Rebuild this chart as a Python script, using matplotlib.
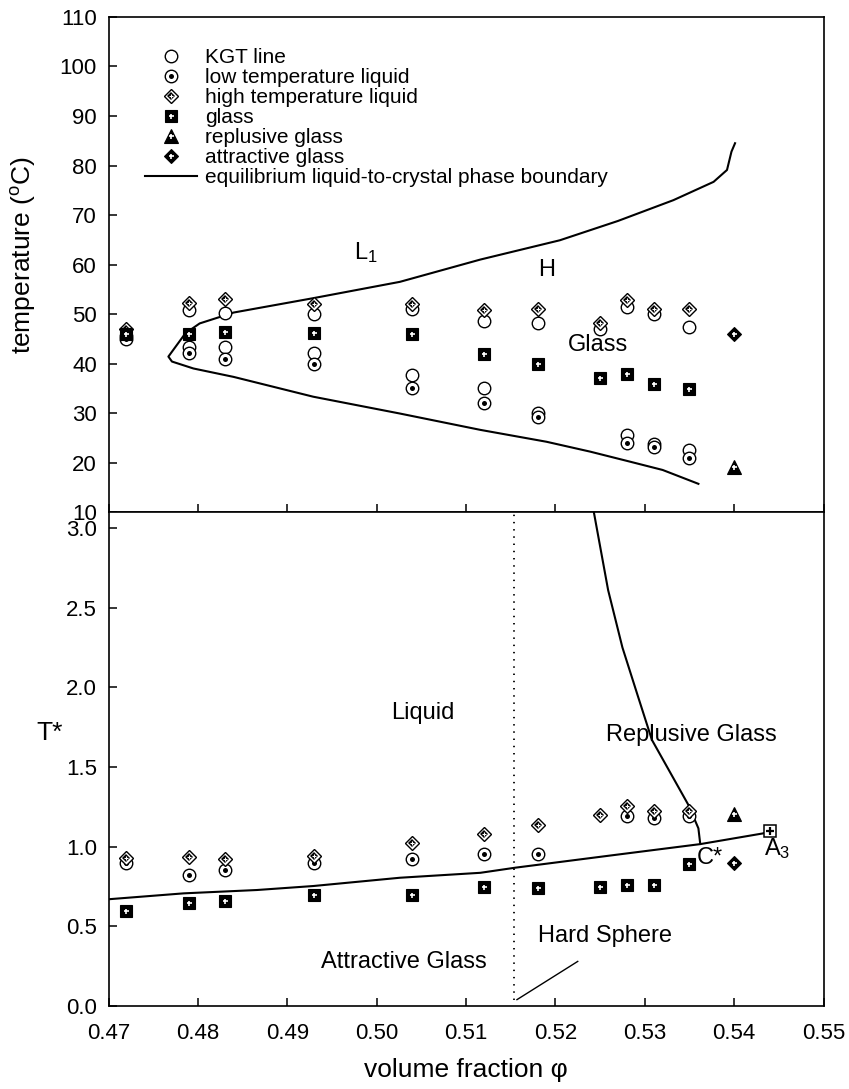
import numpy as np
import matplotlib
matplotlib.use("Agg")
import matplotlib.pyplot as plt
from matplotlib.legend_handler import HandlerTuple

plt.rcParams['font.family'] = ['Liberation Sans', 'DejaVu Sans']
plt.rcParams['mathtext.fontset'] = 'custom'
plt.rcParams['mathtext.rm'] = 'Liberation Sans'
plt.rcParams['mathtext.it'] = 'Liberation Sans:italic'

# ---------------- data: temperature panel ----------------
phi = [0.472, 0.479, 0.483, 0.493, 0.504, 0.512, 0.518, 0.525, 0.528, 0.531, 0.535]
nan = np.nan
kgt_upper_T = [45.5, 50.8, 50.3, 50.0, 51.0, 48.5, 48.1, 46.9, 51.5, 50.0, 47.3]
kgt_lower_T = [nan, 43.3, 43.3, 42.2, 37.7, 35.1, 30.1, nan, 25.6, 23.7, 22.5]
low_liquid_T = [45.0, 42.2, 41.0, 40.0, 35.0, 32.1, 29.1, nan, 24.0, 23.1, 21.0]
high_liquid_T = [47.0, 52.2, 53.0, 52.0, 52.0, 50.9, 51.0, 48.1, 52.8, 51.0, 51.0]
glass_T = [46.0, 46.0, 46.4, 46.1, 46.0, 41.9, 39.9, 37.0, 37.8, 35.9, 34.9]
rep_glass_phi, rep_glass_T = [0.540], [19.2]
att_glass_phi, att_glass_T = [0.540], [46.0]

# equilibrium liquid-to-crystal phase boundary
eq_phi = [0.5401, 0.5397, 0.5392, 0.5377, 0.5332, 0.5270, 0.5205, 0.5116, 0.5026,
          0.4929, 0.4840, 0.4802, 0.4786, 0.4767, 0.4771, 0.4795, 0.4840, 0.4929,
          0.5026, 0.5116, 0.5190, 0.5239, 0.5283, 0.5320, 0.5360]
eq_T = [84.5, 82.8, 79.1, 76.7, 73.0, 68.8, 64.9, 61.0, 56.5,
        53.2, 50.3, 48.1, 46.1, 41.4, 40.4, 39.0, 37.3, 33.3,
        29.9, 26.6, 24.2, 22.2, 20.2, 18.5, 15.7]

# ---------------- data: reduced temperature panel ----------------
low_liquid_Ts = [0.900, 0.822, 0.853, 0.895, 0.920, 0.952, 0.952, nan, 1.190, 1.177, 1.190]
high_liquid_Ts = [0.926, 0.937, 0.920, 0.941, 1.020, 1.077, 1.136, 1.198, 1.257, 1.223, 1.223]
glass_Ts = [0.598, 0.644, 0.659, 0.696, 0.696, 0.749, 0.742, 0.749, 0.759, 0.759, 0.889]
rep_glass_Ts = [1.205]
att_glass_Ts = [0.895]
a3_phi, a3_Ts = [0.544], [1.10]

att_line_phi = [0.470, 0.4784, 0.4866, 0.4929, 0.5026, 0.5116, 0.5155, 0.5265, 0.5362, 0.5432, 0.5440]
att_line_Ts = [0.670, 0.707, 0.728, 0.753, 0.805, 0.836, 0.868, 0.947, 1.016, 1.083, 1.100]
rep_line_phi = [0.5243, 0.5259, 0.5275, 0.5292, 0.5308, 0.5330, 0.5349, 0.5360, 0.5362]
rep_line_Ts = [3.10, 2.61, 2.25, 1.95, 1.67, 1.45, 1.26, 1.115, 1.02]
phi_hard_sphere = 0.5154

# ---------------- figure ----------------
fig = plt.figure(figsize=(8.49, 10.89), dpi=100)
ax1 = fig.add_axes([0.1278, 0.5298, 0.8422, 0.4546])
ax2 = fig.add_axes([0.1278, 0.0762, 0.8422, 0.4536])

K = 'black'
LW = 1.5
REGION_FS = 17


def kgt(ax, x, y, z=3):
    return ax.plot(x, y, ls='none', marker='o', ms=9, mfc='white', mec=K, mew=1.0, zorder=z)[0]


def low_liquid(ax, x, y, z=4):
    a = ax.plot(x, y, ls='none', marker='o', ms=9, mfc='white', mec=K, mew=1.0, zorder=z)[0]
    b = ax.plot(x, y, ls='none', marker='o', ms=3.6, mfc=K, mec=K, mew=0, zorder=z + 0.1)[0]
    return (a, b)


def high_liquid(ax, x, y, z=5):
    a = ax.plot(x, y, ls='none', marker='D', ms=7.2, mfc='white', mec=K, mew=1.0, zorder=z)[0]
    b = ax.plot(x, y, ls='none', marker='D', ms=3.8, mfc=K, mec=K, mew=0, zorder=z + 0.1)[0]
    c = ax.plot(x, y, ls='none', marker='+', ms=2.6, mec='white', mew=0.8, zorder=z + 0.2)[0]
    return (a, b, c)


def filled_plus(ax, x, y, marker, ms, z=6):
    a = ax.plot(x, y, ls='none', marker=marker, ms=ms, mfc=K, mec=K, mew=0.8, zorder=z)[0]
    b = ax.plot(x, y, ls='none', marker='+', ms=3.6, mec='white', mew=1.2, zorder=z + 0.1)[0]
    return (a, b)


# upper panel
line_eq, = ax1.plot(eq_phi, eq_T, color=K, lw=LW, zorder=2)
h_kgt = kgt(ax1, phi, kgt_upper_T)
kgt(ax1, phi, kgt_lower_T)
h_low = low_liquid(ax1, phi, low_liquid_T)
h_high = high_liquid(ax1, phi, high_liquid_T)
h_glass = filled_plus(ax1, phi, glass_T, 's', 8.5)
h_rep = filled_plus(ax1, rep_glass_phi, rep_glass_T, '^', 10)
h_att = filled_plus(ax1, att_glass_phi, att_glass_T, 'D', 7.0)

ax1.text(0.4988, 62.4, r'L$_\mathrm{1}$', fontsize=REGION_FS, ha='center', va='center')
ax1.text(0.5190, 58.9, 'H', fontsize=REGION_FS, ha='center', va='center')
ax1.text(0.5248, 43.7, 'Glass', fontsize=REGION_FS, ha='center', va='center')

ax1.legend(
    [h_kgt, h_low, h_high, h_glass, h_rep, h_att, line_eq],
    ['KGT line', 'low temperature liquid', 'high temperature liquid', 'glass',
     'replusive glass', 'attractive glass', 'equilibrium liquid-to-crystal phase boundary'],
    handler_map={tuple: HandlerTuple(ndivide=1)},
    loc='upper left', bbox_to_anchor=(0.051, 0.937), frameon=False,
    fontsize=15, labelspacing=0.045, handlelength=2.5, handletextpad=0.4,
    borderpad=0.0, borderaxespad=0.0)

ax1.set_xlim(0.47, 0.55)
ax1.set_ylim(10, 110)
ax1.set_yticks(np.arange(10, 111, 10))
ax1.set_xticks(np.arange(0.47, 0.5501, 0.01))
ax1.tick_params(axis='x', labelbottom=False)
ax1.set_ylabel('temperature ($^\\mathrm{o}$C)', fontsize=19)
ax1.yaxis.set_label_coords(-0.098, 0.519)

# lower panel
ax2.plot(att_line_phi, att_line_Ts, color=K, lw=LW, zorder=2)
ax2.plot(rep_line_phi, rep_line_Ts, color=K, lw=LW, zorder=2)
ax2.plot([phi_hard_sphere, phi_hard_sphere], [0.04, 3.1], color=K, lw=1.3,
         dashes=(0.8, 3.2), zorder=1)
ax2.plot([phi_hard_sphere + 0.0003, 0.5225], [0.04, 0.28], color=K, lw=1.0, zorder=1)

low_liquid(ax2, phi, low_liquid_Ts)
high_liquid(ax2, phi, high_liquid_Ts)
filled_plus(ax2, phi, glass_Ts, 's', 8.5)
filled_plus(ax2, rep_glass_phi, rep_glass_Ts, '^', 10)
filled_plus(ax2, att_glass_phi, att_glass_Ts, 'D', 7.0)
ax2.plot(a3_phi, a3_Ts, ls='none', marker='s', ms=8.5, mfc='white', mec=K, mew=1.1, zorder=6)
ax2.plot(a3_phi, a3_Ts, ls='none', marker='+', ms=5.5, mec=K, mew=1.6, zorder=7)

ax2.text(0.5052, 1.84, 'Liquid', fontsize=REGION_FS, ha='center', va='center')
ax2.text(0.5352, 1.70, 'Replusive Glass', fontsize=REGION_FS, ha='center', va='center')
ax2.text(0.5030, 0.275, 'Attractive Glass', fontsize=REGION_FS, ha='center', va='center')
ax2.text(0.5255, 0.44, 'Hard Sphere', fontsize=REGION_FS, ha='center', va='center')
ax2.text(0.5373, 0.93, 'C*', fontsize=REGION_FS, ha='center', va='center')
ax2.text(0.5448, 0.99, r'A$_\mathrm{3}$', fontsize=REGION_FS, ha='center', va='center')

ax2.set_xlim(0.47, 0.55)
ax2.set_ylim(0, 3.1)
ax2.set_yticks(np.arange(0, 3.01, 0.5))
ax2.set_xticks(np.arange(0.47, 0.5501, 0.01))
ax2.yaxis.set_major_formatter(matplotlib.ticker.FormatStrFormatter('%.1f'))
ax2.xaxis.set_major_formatter(matplotlib.ticker.FormatStrFormatter('%.2f'))
ax2.set_xlabel('volume fraction φ', fontsize=19, labelpad=10)
ax2.set_ylabel('T*', fontsize=19, rotation=0)
ax2.yaxis.set_label_coords(-0.082, 0.528)

for ax in (ax1, ax2):
    for s in ax.spines.values():
        s.set_linewidth(1.2)
    ax.tick_params(direction='in', length=6, width=1.1, top=False, right=False,
                   labelsize=16)
    ax.tick_params(axis='y', pad=8.3)
ax2.tick_params(axis='x', pad=12)

fig.savefig('out.png', dpi=100)
